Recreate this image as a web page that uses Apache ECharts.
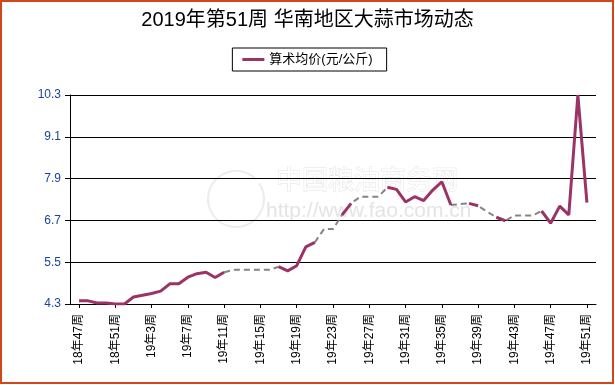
<!DOCTYPE html>
<html>
<head>
<meta charset="utf-8">
<script src="https://cdn.jsdelivr.net/npm/echarts@6/dist/echarts.min.js"></script>
<style>html,body{margin:0;padding:0;background:#fff}#c{width:615px;height:385px}</style>
</head>
<body>
<div id="c"></div>
<script>
var weeks = ['18年47周','18年48周','18年49周','18年50周','18年51周','18年52周',
  '19年1周','19年2周','19年3周','19年4周','19年5周','19年6周','19年7周','19年8周','19年9周','19年10周',
  '19年11周','19年12周','19年13周','19年14周','19年15周','19年16周','19年17周','19年18周','19年19周','19年20周',
  '19年21周','19年22周','19年23周','19年24周','19年25周','19年26周','19年27周','19年28周','19年29周','19年30周',
  '19年31周','19年32周','19年33周','19年34周','19年35周','19年36周','19年37周','19年38周','19年39周','19年40周',
  '19年41周','19年42周','19年43周','19年44周','19年45周','19年46周','19年47周','19年48周','19年49周','19年50周','19年51周'];
// actual weekly average price (null = no report that week)
var actual = [4.39,4.39,4.33,4.33,4.30,4.30,4.50,4.55,4.60,4.67,4.88,4.88,5.07,5.17,5.21,5.06,
  5.21,null,null,null,null,null,5.37,5.25,5.40,5.94,6.07,null,null,6.86,7.19,null,null,null,
  7.65,7.59,7.23,7.38,7.27,7.57,7.81,7.14,null,7.19,7.12,null,6.79,6.69,null,null,null,6.97,
  6.62,7.11,6.86,10.30,7.21];
// estimated values for weeks without report (dashed gray)
var estimated = [null,null,null,null,null,null,null,null,null,null,null,null,null,null,null,null,
  null,5.28,5.28,5.28,5.28,5.28,null,null,null,null,null,6.45,6.45,null,null,7.38,7.38,7.38,
  null,null,null,null,null,null,null,null,7.17,null,null,6.95,null,null,6.84,6.84,6.84,null,
  null,null,null,null,null];
var yTicks = [4.3,5.5,6.7,7.9,9.1,10.3];
var seriesName = '算术均价(元/公斤)';
var titleText = '2019年第51周 华南地区大蒜市场动态';

var BASE = yTicks[0];
var STEP = yTicks[1] - yTicks[0];
var SPAN = yTicks[yTicks.length - 1] - BASE;

var cats = [''].concat(weeks).concat(['']);
var solidData = [null].concat(actual.map(function(v){ return v == null ? null : +(v - BASE).toFixed(3); })).concat([null]);
var dashData = [null];
for (var i = 0; i < actual.length; i++) {
  var v = null;
  if (actual[i] == null) v = estimated[i];
  else if ((i > 0 && actual[i-1] == null) || (i < actual.length - 1 && actual[i+1] == null)) v = actual[i];
  dashData.push(v == null ? null : +(v - BASE).toFixed(3));
}
dashData.push(null);

function showIdx(index) { return index >= 1 && index <= weeks.length && (index - 1) % 4 === 0; }

var FONT = "Arial, 'Liberation Sans', 'Noto Sans CJK SC', sans-serif";
var chart = echarts.init(document.getElementById('c'), null, {renderer: 'canvas'});
chart.setOption({
  animation: false,
  backgroundColor: '#fff',
  title: {
    text: titleText, left: 'center', top: 10, padding: 0,
    textStyle: {fontSize: 20, fontWeight: 'normal', color: '#000', fontFamily: FONT}
  },
  legend: {
    top: 48, left: 'center',
    data: [{name: seriesName, icon: 'rect'}],
    itemWidth: 22, itemHeight: 3, itemGap: 5,
    borderColor: '#000', borderWidth: 1,
    padding: [5, 14, 5, 10],
    textStyle: {fontSize: 13, color: '#000', fontFamily: FONT}
  },
  grid: {left: 70, right: 19, top: 95, bottom: 81, containLabel: false},
  graphic: [
    {type: 'rect', z: 100, silent: true, shape: {x: 1, y: 1, width: 612, height: 382},
     style: {fill: null, stroke: '#D2461C', lineWidth: 2}},
    {type: 'arc', z: -1, silent: true, shape: {cx: 236, cy: 199, r: 28, startAngle: -0.6, endAngle: Math.PI * 1.75},
     style: {fill: null, stroke: '#ececec', lineWidth: 2}},
    {type: 'text', z: -1, silent: true, x: 276, y: 166,
     style: {text: '中国粮油商务网', font: '26px "Noto Sans CJK SC"', fill: '#fff', stroke: '#e3e3e3', lineWidth: 1}},
    {type: 'text', z: -1, silent: true, x: 266, y: 201,
     style: {text: 'http://www.fao.com.cn', font: '21px "Liberation Sans", Arial', fill: '#e4e4e4'}}
  ],
  xAxis: {
    type: 'category', data: cats, boundaryGap: false,
    axisLine: {lineStyle: {color: '#000', width: 1}},
    axisTick: {show: true, length: 4, interval: function(idx){ return showIdx(idx); }, lineStyle: {color: '#000'}},
    axisLabel: {rotate: 90, margin: 10, fontSize: 12, color: '#000', fontFamily: FONT,
      interval: function(idx){ return showIdx(idx); }},
    splitLine: {show: false}
  },
  yAxis: {
    type: 'value', min: 0, max: SPAN, interval: STEP,
    axisLine: {show: true, lineStyle: {color: '#000', width: 1}},
    axisTick: {show: true, length: 5, lineStyle: {color: '#000'}},
    axisLabel: {margin: 9, fontSize: 12, color: '#1a4596', fontFamily: FONT,
      formatter: function(v){ return (v + BASE).toFixed(1); }},
    splitLine: {show: true, lineStyle: {color: '#000', width: 1}}
  },
  series: [
    {name: seriesName + '_est', type: 'line', data: dashData, connectNulls: false, showSymbol: false, symbol: 'none',
     lineStyle: {color: '#858585', width: 2, type: [6, 4]}, z: 2},
    {name: seriesName, type: 'line', data: solidData, connectNulls: false, showSymbol: false, symbol: 'none',
     itemStyle: {color: '#9B3366'}, lineStyle: {color: '#9B3366', width: 3}, z: 3}
  ]
});
</script>
</body>
</html>
